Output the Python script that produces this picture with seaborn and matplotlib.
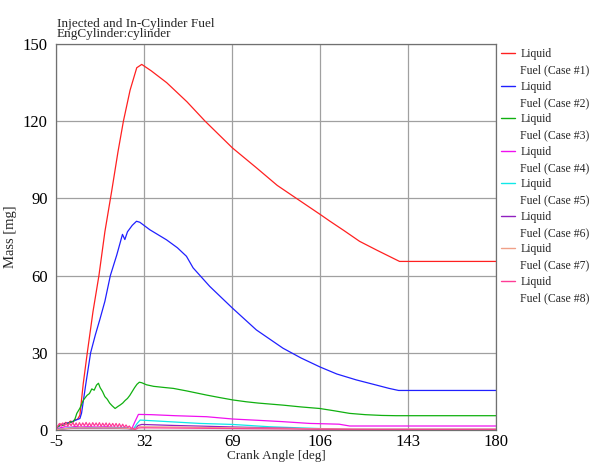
import pandas as pd
import seaborn as sns
import matplotlib.pyplot as plt
from matplotlib.lines import Line2D

# valores (ângulo da manivela [deg], massa [mg])
x1 = [-5, -4, -3, -2, -1, 0, 1, 2, 3, 4, 5, 6.4, 8.1, 10.5, 13.0, 15.5, 18.4, 21, 23.3, 26.1, 28.9,
      31, 35, 41.5, 50, 57.6, 69.1, 79.3, 88, 96, 106.1, 110, 116, 122.6, 130, 139.4, 150, 165, 180]
y1 = [0.5, 1.8, 2.4, 2.0, 3.0, 2.6, 3.5, 3.2, 4.0, 4.2, 5.8, 18, 30, 46, 60, 77, 93, 108, 120, 132, 140.7,
      142, 139.5, 134.9, 127.5, 120, 109.6, 101.8, 95, 90, 83.7, 81.2, 77.5, 73.3, 69.8, 65.5, 65.5, 65.5, 65.5]

x2 = [-5, -3, -1, 1, 3, 5, 5.7, 7.5, 9.5, 11.5, 13.4, 15.5, 17.8, 20.5, 22.9, 23.9, 25, 27, 28.8, 30.2,
      34.4, 41.4, 46, 49.8, 52.6, 59.6, 69.1, 79.2, 90.4, 98, 106, 113, 121.2, 129.6, 135, 139, 150, 165, 180]
y2 = [0.8, 2.0, 2.6, 3.0, 3.8, 4.5, 6.6, 18, 30, 37, 43, 50, 60, 68, 76, 74, 77, 79.5, 81.1, 80.7,
      77.8, 73.9, 70.8, 67.5, 63.0, 55.8, 47.4, 38.9, 31.8, 28, 24.5, 21.8, 19.5, 17.5, 16.2, 15.4, 15.4, 15.4, 15.4]

x3 = [-5, -4, -3, -2, -1, 0, 1, 2, 3, 3.7, 5, 6.5, 8, 9, 10, 11, 12, 12.8, 13.5, 14.5,
      15.5, 16.5, 17.5, 18.5, 19.8, 21, 22, 23, 24, 25, 26, 27, 28, 29, 30, 31, 33, 36, 40, 44.3,
      50, 58.3, 64, 69.4, 75, 80, 90.4, 98, 105.8, 112, 118.4, 125, 132, 138, 150, 165, 180]
y3 = [0.5, 1.5, 2.0, 1.8, 2.6, 2.4, 3.2, 3.0, 4.5, 6.5, 8.5, 11.7, 13.5, 14.2, 16, 15.5, 17.5, 18.2, 16.5, 15,
      13, 12, 10.5, 9.5, 8.4, 9.2, 9.8, 10.5, 11.5, 12.3, 13.5, 15, 16.5, 17.8, 18.6, 18.4, 17.6, 17, 16.6, 16.2,
      15.2, 13.6, 12.6, 11.7, 11, 10.5, 9.7, 9, 8.4, 7.5, 6.5, 6.0, 5.7, 5.6, 5.6, 5.6, 5.6]

x4 = [-5, -3, -1, 1, 3, 5, 8, 12, 16, 20, 24, 26.8, 28, 29.6, 35, 45, 58.3, 69.4, 80, 90,
      101.6, 110, 114, 118.4, 140, 180]
y4 = [0.3, 1.0, 1.3, 1.1, 1.4, 1.2, 1.3, 1.2, 1.3, 1.1, 1.0, 0.5, 3.0, 6.1, 6.0, 5.6, 5.2, 4.3, 3.8, 3.3,
      2.6, 2.4, 2.3, 1.6, 1.6, 1.6]

x5 = [-5, 0, 5, 10, 15, 20, 25, 27.5, 29, 30.3, 40, 55.4, 69.3, 84.8, 100, 115, 140, 180]
y5 = [0.2, 0.8, 1.0, 0.9, 1.0, 0.9, 0.8, 0.4, 2.5, 3.9, 3.4, 2.6, 2.2, 1.3, 0.8, 0.3, 0.3, 0.3]

x6 = [-5, 0, 5, 10, 15, 20, 25, 28, 29.5, 31, 45, 58, 70, 90, 105, 120, 180]
y6 = [0.2, 0.6, 0.8, 0.7, 0.8, 0.7, 0.6, 0.3, 1.8, 2.2, 1.8, 1.5, 1.2, 0.8, 0.4, 0.2, 0.2]

x7 = [-5, 0, 5, 10, 15, 20, 25, 28, 30, 45, 60, 80, 100, 120, 180]
y7 = [0.2, 0.7, 0.9, 0.8, 0.9, 0.8, 0.7, 0.3, 1.3, 1.2, 1.0, 0.8, 0.6, 0.4, 0.4]

x8 = [-5, -4.3, -3.6, -2.9, -2.2, -1.5, -0.8, -0.1, 0.6, 1.3, 2.0, 2.7, 3.4, 4.1, 4.8, 5.5, 6.2, 6.9, 7.6, 8.3,
      9.0, 9.7, 10.4, 11.1, 11.8, 12.5, 13.2, 13.9, 14.6, 15.3, 16.0, 16.7, 17.4, 18.1, 18.8, 19.5, 20.2, 20.9,
      21.6, 22.3, 23.0, 23.7, 24.4, 25.1, 25.8, 26.5, 27.2, 27.9, 28.6, 29.5, 31, 45, 70, 100, 130, 160, 180]
y8 = [0.3, 1.6, 2.6, 1.5, 2.8, 1.6, 2.9, 1.5, 2.8, 1.7, 3.0, 1.6, 2.8, 1.5, 2.9, 1.6, 2.8, 1.7, 3.0, 1.6,
      2.8, 1.5, 2.9, 1.7, 2.8, 1.6, 2.9, 1.5, 2.7, 1.6, 2.8, 1.4, 2.7, 1.5, 2.6, 1.4, 2.6, 1.3,
      2.5, 1.2, 2.3, 1.1, 2.0, 1.0, 1.6, 0.7, 0.9, 0.3, 0.4, 0.8, 0.9, 0.8, 0.6, 0.4, 0.3, 0.3, 0.3]

casos = ["Case #1", "Case #2", "Case #3", "Case #4", "Case #5", "Case #6", "Case #7", "Case #8"]
cores = ["#ff2020", "#2020ff", "#10b010", "#f010f0", "#10e8e8", "#9020c0", "#f0a088", "#ff3c96"]
series = [(x1, y1), (x2, y2), (x3, y3), (x4, y4), (x5, y5), (x6, y6), (x7, y7), (x8, y8)]

x_ticks = [-5, 32, 69, 106, 143, 180]
y_ticks = [0, 30, 60, 90, 120, 150]

# monta o DataFrame longo
partes = []
for caso, (xs, ys) in zip(casos, series):
    partes.append(pd.DataFrame({"angle": xs, "mass": ys, "case": caso}))
df = pd.concat(partes, ignore_index=True)

sns.set_style("white")
plt.rcParams["font.family"] = ["Liberation Serif", "DejaVu Serif"]
plt.rcParams["axes.unicode_minus"] = False

fig = plt.figure(figsize=(5.97, 4.66), dpi=100)
ax = fig.add_axes([0.094, 0.077, 0.737, 0.829])

sns.lineplot(data=df, x="angle", y="mass", hue="case", palette=dict(zip(casos, cores)),
             estimator=None, sort=False, legend=False, linewidth=0.9, ax=ax)

ax.set_xlim(-5, 180)
ax.set_ylim(0, 150)
ax.set_xticks(x_ticks)
ax.set_yticks(y_ticks)
ax.grid(True, color="#a0a0a0", linewidth=0.9)
ax.set_axisbelow(True)
for lado in ax.spines.values():
    lado.set_color("#707070")
    lado.set_linewidth(0.9)
ax.tick_params(length=0, labelsize=12, colors="#000000")
ax.tick_params(axis="y", pad=6)
ax.tick_params(axis="x", pad=3)
ax.set_xlabel("Crank Angle [deg]", fontsize=9.5, labelpad=0)
ax.set_ylabel("Mass [mg]", fontsize=10.5, labelpad=4)

fig.text(57 / 597, 1 - 26.7 / 466, "Injected and In-Cylinder Fuel", fontsize=9.5, va="baseline")
fig.text(57 / 597, 1 - 37.5 / 466, "EngCylinder:cylinder", fontsize=9.5, va="baseline")

# legenda: "Liquid" com a linha, "Fuel (Case #n)" na linha de baixo
handles, labels = [], []
for caso, cor in zip(casos, cores):
    handles.append(Line2D([], [], color=cor, linewidth=1.0))
    labels.append("Liquid")
    handles.append(Line2D([], [], color="none"))
    labels.append("Fuel (" + caso + ")")
fig.legend(handles, labels, loc="upper left", bbox_to_anchor=(501 / 597, 1 - 48.5 / 466),
           frameon=False, fontsize=8.5, borderpad=0, borderaxespad=0, handlelength=1.2,
           handletextpad=0.45, labelspacing=0.36)

plt.savefig("out.png", dpi=100)
